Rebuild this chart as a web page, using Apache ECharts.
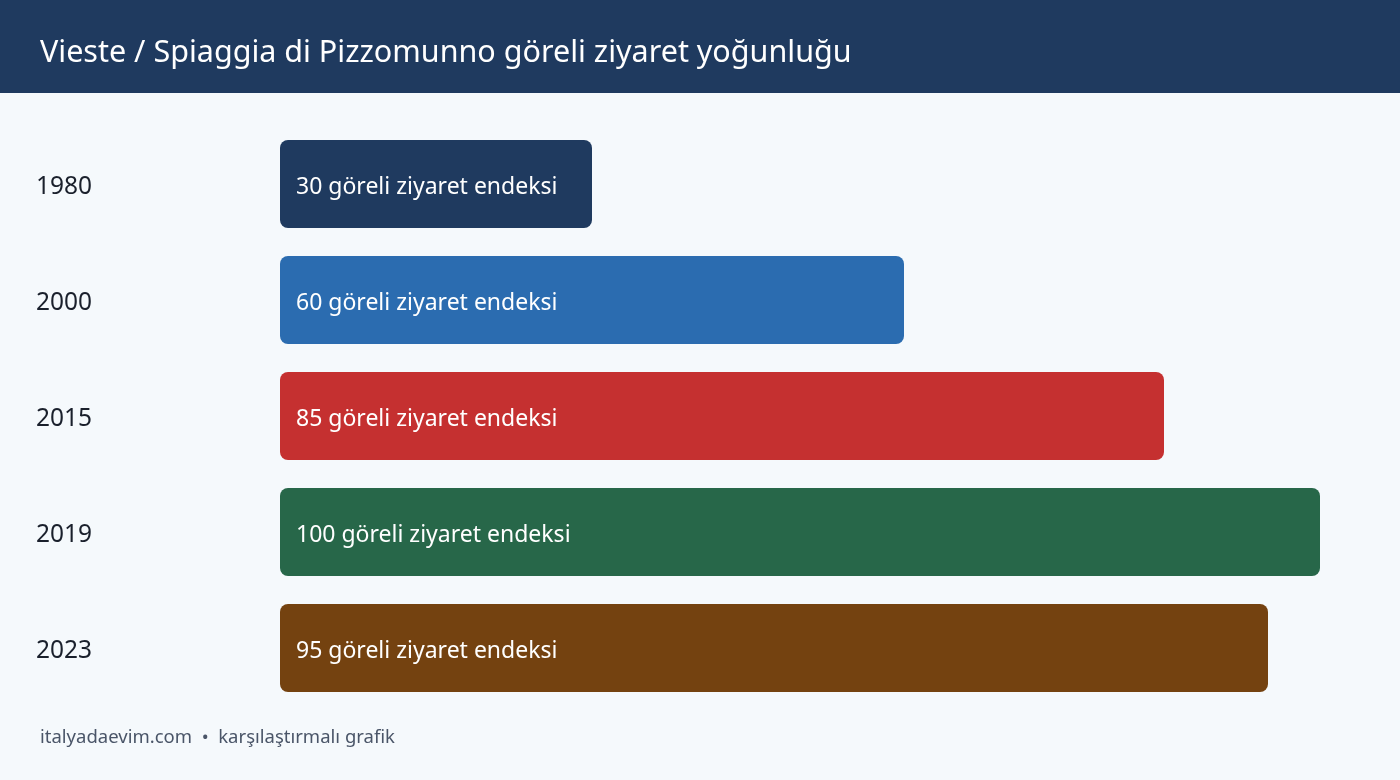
<!DOCTYPE html>
<html><head><meta charset="utf-8">
<script src="https://cdn.jsdelivr.net/npm/echarts@6/dist/echarts.min.js"></script>
<style>html,body{margin:0;padding:0;background:#F5F9FC;}#c{width:1400px;height:780px;}</style>
</head><body><div id="c"></div>
<script>
const years = ['1980','2000','2015','2019','2023'];
const values = [30, 60, 85, 100, 95];
const colors = ['#1F3A5F','#2B6CB0','#C53030','#276749','#744210'];
const unit = 'göreli ziyaret endeksi';
const titleText = 'Vieste / Spiaggia di Pizzomunno göreli ziyaret yoğunluğu';
const footerText = 'italyadaevim.com  •  karşılaştırmalı grafik';
const FONT = '"Noto Sans", "Open Sans", sans-serif';

const chart = echarts.init(document.getElementById('c'));
chart.setOption({
  backgroundColor: '#F5F9FC',
  animation: false,
  graphic: [
    {type:'rect', left:0, top:0, shape:{width:1400, height:93}, style:{fill:'#1F3A5F'}, z:0},
    {type:'text', left:40, top:38, style:{text:titleText, fill:'#FFFFFF', font:'30.5px ' + FONT}},
    {type:'text', left:40, top:728, style:{text:footerText, fill:'#4A5568', font:'18.5px ' + FONT}}
  ],
  grid: {left:280, right:80, top:126, height:580, containLabel:false},
  xAxis: {type:'value', min:0, max:100, show:false},
  yAxis: {
    type:'category', data:years, inverse:true,
    axisLine:{show:false}, axisTick:{show:false},
    axisLabel:{align:'left', margin:244, formatter: v => '{y|' + v + '}',
      rich:{y:{fontSize:24.5, color:'#1A202C', fontFamily:FONT, padding:[6,0,0,0]}}}
  },
  series: [{
    type:'bar', barWidth:88,
    data: values.map((v,i)=>({value:v, itemStyle:{color:colors[i], borderRadius:8}})),
    label:{show:true, position:'insideLeft', distance:16, offset:[0,3], color:'#FFFFFF', fontSize:23, fontFamily:FONT,
      formatter: p => p.value + ' ' + unit}
  }]
});
</script></body></html>
